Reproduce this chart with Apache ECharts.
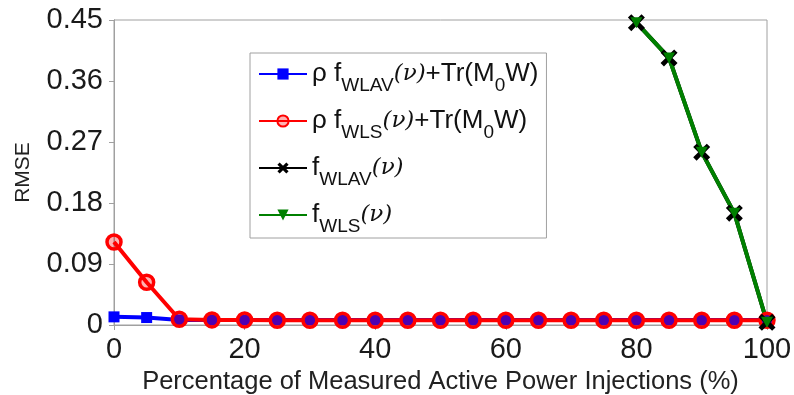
<!DOCTYPE html>
<html>
<head>
<meta charset="utf-8">
<script src="https://cdn.jsdelivr.net/npm/echarts@6/dist/echarts.min.js"></script>
<style>
html,body{margin:0;padding:0;background:#fff;}
#c{width:794px;height:395px;}
</style>
</head>
<body>
<div id="c"></div>
<script>
// ---- data ----
var xAll = [0,5,10,15,20,25,30,35,40,45,50,55,60,65,70,75,80,85,90,95,100];
var rhoWLAV = [0.012,0.011,0.0075,0.0075,0.0075,0.0075,0.0075,0.0075,0.0075,0.0075,0.0075,0.0075,0.0075,0.0075,0.0075,0.0075,0.0075,0.0075,0.0075,0.0075,0.0075];
var rhoWLS  = [0.1225,0.063,0.0085,0.0075,0.0075,0.007,0.007,0.007,0.007,0.007,0.007,0.007,0.007,0.007,0.007,0.007,0.007,0.007,0.007,0.007,0.007];
var xTail = [80,85,90,95,100];
var fWLAV = [0.446,0.394,0.255,0.165,0.004];
var fWLS  = [0.446,0.394,0.255,0.165,0.004];
var yTicks = [0,0.09,0.18,0.27,0.36,0.45];
var xTicks = [0,20,40,60,80,100];
var names = ['rhoWLAV','rhoWLS','fWLAV','fWLS'];

function pairs(xs, ys){ return xs.map(function(x,i){ return [x, ys[i]]; }); }

var FONT = 'Liberation Sans';
var legendText = {
  rhoWLAV: '{n|ρ f}{s|WLAV}{v|(ν)}{n|+Tr(M}{s|0}{n|W)}',
  rhoWLS:  '{n|ρ f}{s|WLS}{v|(ν)}{n|+Tr(M}{s|0}{n|W)}',
  fWLAV:   '{n|f}{s|WLAV}{v|(ν)}',
  fWLS:    '{n|f}{s|WLS}{v|(ν)}'
};

var xShape = 'path://M0,2L2,0L5,3L8,0L10,2L7,5L10,8L8,10L5,7L2,10L0,8L3,5Z';
var triDown = 'path://M0,0L10,0L5,9Z';

var chart = echarts.init(document.getElementById('c'), null, {renderer:'canvas'});
var axisGray = '#a0a0a0';
var option = {
  animation: false,
  backgroundColor: '#fff',
  grid: {left:114, right:27, top:20, bottom:70, containLabel:false, outerBoundsMode:'none',
         show:true, borderColor:axisGray, borderWidth:1},
  xAxis: [{
    type:'value', min:0, max:100, interval:20,
    name:'Percentage of Measured Active Power Injections (%)',
    nameLocation:'middle', nameGap:38,
    nameTextStyle:{fontFamily:FONT, fontSize:25.5, color:'#222'},
    axisLine:{show:true, lineStyle:{color:axisGray, width:1}},
    axisTick:{show:true, inside:true, length:5, lineStyle:{color:axisGray}},
    axisLabel:{fontFamily:FONT, fontSize:29, color:'#1a1a1a', margin:10},
    splitLine:{show:false}
  },{
    type:'value', min:0, max:100, interval:20, position:'top',
    axisLine:{show:true, lineStyle:{color:axisGray}},
    axisTick:{show:true, inside:true, length:5, lineStyle:{color:axisGray}},
    axisLabel:{show:false}, splitLine:{show:false}
  }],
  yAxis: [{
    type:'value', min:0, max:0.45, interval:0.09,
    name:'RMSE', nameLocation:'middle', nameGap:80,
    nameTextStyle:{fontFamily:FONT, fontSize:21, color:'#222'},
    axisLine:{show:true, lineStyle:{color:axisGray}},
    axisTick:{show:true, inside:false, length:4, lineStyle:{color:axisGray}},
    axisLabel:{fontFamily:FONT, fontSize:29, color:'#1a1a1a', margin:11,
      formatter:function(v){ return Math.abs(v)<1e-9 ? '0' : v.toFixed(2); }},
    splitLine:{show:false}
  },{
    type:'value', min:0, max:0.45, interval:0.09, position:'right',
    axisLine:{show:true, lineStyle:{color:axisGray}},
    axisTick:{show:true, inside:true, length:5, lineStyle:{color:axisGray}},
    axisLabel:{show:false}, splitLine:{show:false}
  }],
  legend: {
    orient:'vertical', left:250, top:53,
    data: names,
    backgroundColor:'#fff', borderColor:axisGray, borderWidth:1,
    padding:[8,8,2,8], itemGap:13, itemWidth:48, itemHeight:14,
    formatter:function(n){ return legendText[n]; },
    textStyle:{
      fontFamily:FONT, color:'#111',
      rich:{
        n:{fontFamily:FONT, fontSize:26, lineHeight:42, verticalAlign:'middle', color:'#111'},
        v:{fontFamily:'DejaVu Serif', fontSize:23, fontStyle:'italic', lineHeight:42, verticalAlign:'middle', color:'#111'},
        s:{fontFamily:FONT, fontSize:19, lineHeight:22, verticalAlign:'bottom', color:'#111'}
      }
    }
  },
  series: [
    {name:'rhoWLAV', type:'line', data:pairs(xAll, rhoWLAV), symbol:'rect', symbolSize:11,
     lineStyle:{color:'#0000ff', width:4}, itemStyle:{color:'#0000ff'}},
    {name:'rhoWLS', type:'line', data:pairs(xAll, rhoWLS), symbol:'circle', symbolSize:14,
     lineStyle:{color:'#ff0000', width:4}, itemStyle:{color:'rgba(255,0,0,0.3)', borderColor:'#ff0000', borderWidth:3.5}},
    {name:'fWLAV', type:'line', data:pairs(xTail, fWLAV), symbol:xShape, symbolSize:17,
     lineStyle:{color:'#000000', width:4}, itemStyle:{color:'#000000'}},
    {name:'fWLS', type:'line', data:pairs(xTail, fWLS), symbol:triDown, symbolSize:[12,11],
     lineStyle:{color:'#008000', width:4}, itemStyle:{color:'#008000'}}
  ]
};
chart.setOption(option);
</script>
</body>
</html>
